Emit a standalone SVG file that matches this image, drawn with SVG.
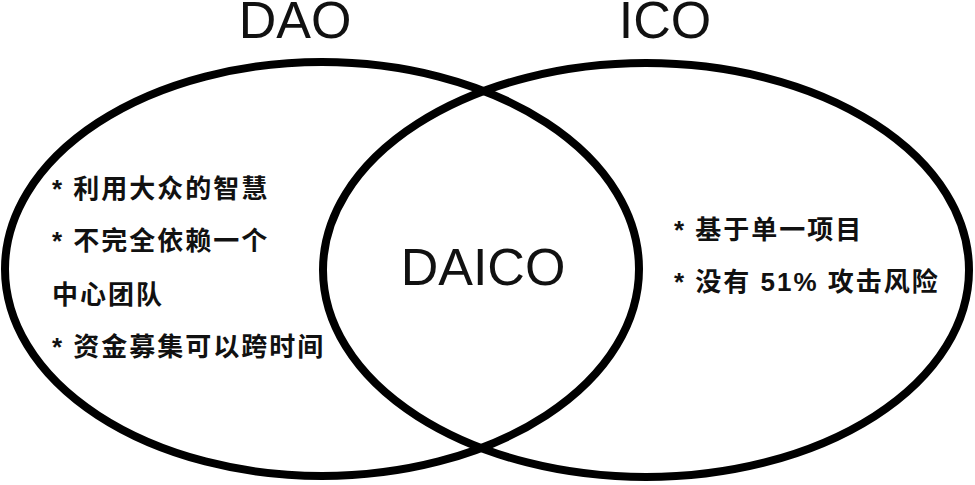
<svg xmlns="http://www.w3.org/2000/svg" width="975" height="485" viewBox="0 0 975 485">
<style>
.c{fill:none;stroke:#000;stroke-width:8}
.t{font-family:"Liberation Sans","Noto Sans CJK SC",sans-serif;fill:#111}
.b{font-size:52px}
.s{font-size:26px;font-weight:bold;letter-spacing:2px}
</style>
<rect width="975" height="485" fill="#fff"/>
<g id="connectors"></g>
<g id="dao"><ellipse class="c" cx="322" cy="269" rx="317" ry="207"/>
<text class="t b" x="295" y="38" text-anchor="middle">DAO</text>
<text class="t s" x="52" y="198">* 利用大众的智慧</text>
<text class="t s" x="52" y="250">* 不完全依赖一个</text>
<text class="t s" x="52" y="304">中心团队</text>
<text class="t s" x="52" y="356">* 资金募集可以跨时间</text></g>
<g id="ico"><ellipse class="c" cx="646" cy="270" rx="323" ry="207"/>
<text class="t b" x="665" y="38" text-anchor="middle">ICO</text>
<text class="t s" x="674" y="239">* 基于单一项目</text>
<text class="t s" x="674" y="291">* 没有 51% 攻击风险</text></g>
<g id="daico"><text class="t b" x="483" y="285" text-anchor="middle">DAICO</text></g>
</svg>
